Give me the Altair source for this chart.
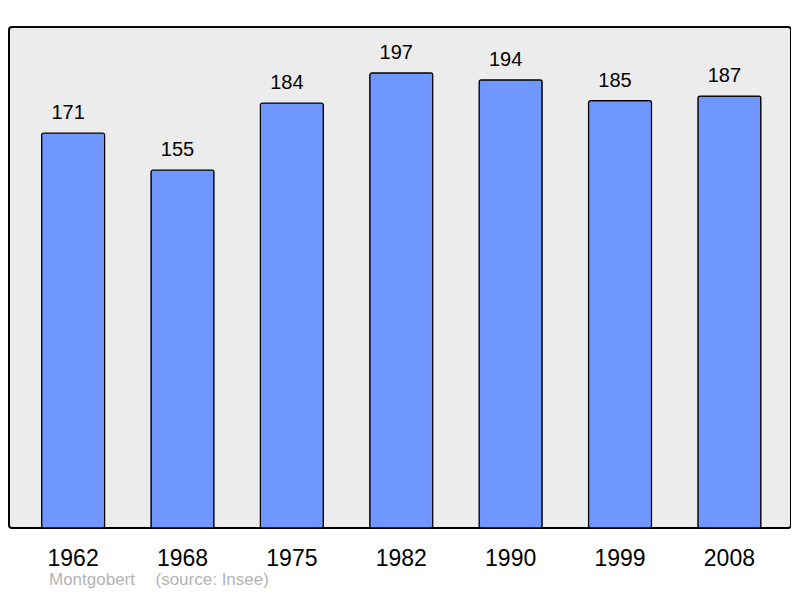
import altair as alt
import pandas as pd

years = ["1962", "1968", "1975", "1982", "1990", "1999", "2008"]
population = [171, 155, 184, 197, 194, 185, 187]
commune = "Montgobert"
source = "(source: Insee)"

df = pd.DataFrame({"year": years, "pop": population})
foot_df = pd.DataFrame({"commune": [commune], "source": [source]})

FONT = "Liberation Sans"

x = alt.X(
    "year:N",
    sort=years,
    scale=alt.Scale(paddingInner=0.424, paddingOuter=0.2866, align=0.52),
    axis=alt.Axis(
        title=None, ticks=False, tickSize=0, domain=False, grid=False,
        labelFontSize=23, labelFont=FONT, labelColor="black",
        labelBaseline="alphabetic", labelPadding=37, labelAngle=0,
    ),
)
y = alt.Y("pop:Q", scale=alt.Scale(domain=[0, 216.9], nice=False, zero=True), axis=None)

bars = alt.Chart(df).mark_bar(
    color="#7096ff", stroke="black", strokeWidth=1.2, cornerRadius=2
).encode(x=x, y=y)

labels = alt.Chart(df).mark_text(
    fontSize=20, font=FONT, color="black", baseline="alphabetic", dy=-14, dx=-5
).encode(x=x, y=y, text="pop:Q")

foot1 = alt.Chart(foot_df).mark_text(
    fontSize=17, font=FONT, color="#b4b4b4", align="left", baseline="alphabetic"
).encode(x=alt.value(40), y=alt.value(557.5), text="commune:N")

foot2 = alt.Chart(foot_df).mark_text(
    fontSize=17, font=FONT, color="#b4b4b4", align="left", baseline="alphabetic"
).encode(x=alt.value(146.5), y=alt.value(557.5), text="source:N")

chart = (
    alt.layer(bars, labels, foot1, foot2)
    .properties(
        width=782, height=501,
        autosize=alt.AutoSizeParams(type="none"),
        padding={"left": 1, "top": 19, "right": 0, "bottom": 62},
        background="white",
    )
    .configure_view(fill="#ececec", stroke="black", strokeWidth=2, cornerRadius=3)
)

chart.save("out.html", embed_options={"renderer": "svg", "actions": False})
